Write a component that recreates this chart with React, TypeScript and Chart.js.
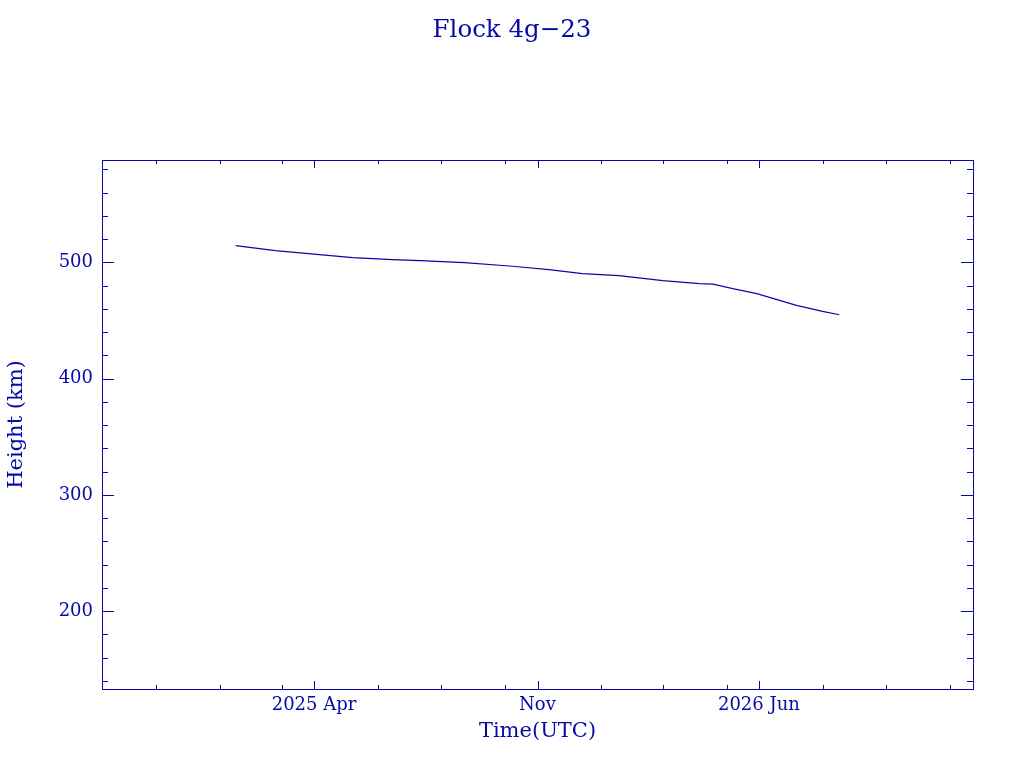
import { useEffect, useRef } from 'react'
import { Chart, registerables } from 'chart.js'

Chart.register(...registerables)

const BLUE = '#0808A8'
const FONT = 'DejaVu Serif'

// orbit height samples
const dates = [
  '2025-01-16', '2025-02-23', '2025-05-08', '2025-06-15', '2025-07-12',
  '2025-08-23', '2025-10-08', '2025-11-12', '2025-12-14', '2026-01-18',
  '2026-03-01', '2026-04-05', '2026-04-18', '2026-05-07', '2026-05-30',
  '2026-07-07', '2026-08-01', '2026-08-17',
]
const heights = [
  514.4, 510.1, 504.1, 502.3, 501.5,
  499.7, 496.6, 493.7, 490.3, 488.5,
  484.2, 481.6, 481.3, 477.3, 473.0,
  462.9, 457.8, 454.9,
]

// axis ranges
const xRange = ['2024-09-10', '2026-12-23']
const yRange = [133, 588]

// tick marks
const xMajorDates = ['2025-04-01', '2025-11-01', '2026-06-01']
const xMajorLabels = ['2025 Apr', 'Nov', '2026 Jun']
const xMinorDates = [
  '2024-11-01', '2025-01-01', '2025-03-01', '2025-06-01', '2025-08-01', '2025-10-01',
  '2026-01-01', '2026-03-01', '2026-05-01', '2026-08-01', '2026-10-01', '2026-12-01',
]
const yMajor = [200, 300, 400, 500]
const yMinor = [140, 160, 180, 220, 240, 260, 280, 320, 340, 360, 380, 420, 440, 460, 480, 520, 540, 560, 580]

const ms = (d: string) => Date.parse(d)
const xMajor = xMajorDates.map(ms)
const xMinor = xMinorDates.map(ms)

// IDL style: tick marks pointing into the plot, on all four sides
const inwardTicks = {
  id: 'inwardTicks',
  afterDraw(chart: any) {
    const { ctx, chartArea: a, scales } = chart
    ctx.save()
    ctx.strokeStyle = BLUE
    ctx.lineWidth = 1
    ctx.beginPath()
    const xs = [...xMajor.map(v => [v, 8]), ...xMinor.map(v => [v, 4])]
    xs.forEach(([v, len]) => {
      const px = Math.round(scales.x.getPixelForValue(v)) + 0.5
      ctx.moveTo(px, a.bottom)
      ctx.lineTo(px, a.bottom - len)
      ctx.moveTo(px, a.top)
      ctx.lineTo(px, a.top + len)
    })
    const ys = [...yMajor.map(v => [v, 12]), ...yMinor.map(v => [v, 6])]
    ys.forEach(([v, len]) => {
      const py = Math.round(scales.y.getPixelForValue(v)) + 0.5
      ctx.moveTo(a.left, py)
      ctx.lineTo(a.left + len, py)
      ctx.moveTo(a.right, py)
      ctx.lineTo(a.right - len, py)
    })
    ctx.stroke()
    ctx.restore()
  },
}

export default function App() {
  const canvasRef = useRef<HTMLCanvasElement>(null)

  useEffect(() => {
    if (!canvasRef.current) return
    const chart = new Chart(canvasRef.current, {
      type: 'line',
      data: {
        datasets: [{
          data: dates.map((d, i) => ({ x: ms(d), y: heights[i] })),
          borderColor: BLUE,
          borderWidth: 1.2,
          pointRadius: 0,
          tension: 0,
        }],
      },
      options: {
        animation: false,
        responsive: false,
        devicePixelRatio: 1,
        layout: { padding: 0 },
        plugins: {
          legend: { display: false },
          tooltip: { enabled: false },
          title: {
            display: true,
            text: 'Flock 4g\u221223',
            color: BLUE,
            font: { family: FONT, size: 24.5, weight: 'normal', lineHeight: '28px' },
            padding: { top: 17, bottom: 0 },
          },
        },
        scales: {
          x: {
            type: 'linear',
            position: 'bottom',
            min: ms(xRange[0]),
            max: ms(xRange[1]),
            afterFit: (s: any) => { s.height = 79 },
            afterBuildTicks: (s: any) => { s.ticks = xMajor.map(v => ({ value: v })) },
            grid: { display: false, drawTicks: false },
            border: { display: true, color: BLUE, width: 1 },
            ticks: {
              autoSkip: false,
              maxRotation: 0,
              padding: 6,
              color: BLUE,
              font: { family: FONT, size: 18 },
              callback: (v: any) => xMajorLabels[xMajor.indexOf(Number(v))] ?? '',
            },
            title: {
              display: true,
              text: 'Time(UTC)',
              color: BLUE,
              font: { family: FONT, size: 21 },
              padding: { top: 0, bottom: 24 },
            },
          },
          x2: {
            type: 'linear',
            position: 'top',
            min: ms(xRange[0]),
            max: ms(xRange[1]),
            afterFit: (s: any) => { s.height = 115 },
            grid: { display: false, drawTicks: false },
            border: { display: true, color: BLUE, width: 1 },
            ticks: { display: false },
          },
          y: {
            type: 'linear',
            position: 'left',
            min: yRange[0],
            max: yRange[1],
            afterFit: (s: any) => { s.width = 102 },
            afterBuildTicks: (s: any) => { s.ticks = yMajor.map(v => ({ value: v })) },
            grid: { display: false, drawTicks: false },
            border: { display: true, color: BLUE, width: 1 },
            ticks: {
              padding: 9,
              color: BLUE,
              font: { family: FONT, size: 18 },
            },
            title: {
              display: true,
              text: 'Height (km)',
              color: BLUE,
              font: { family: FONT, size: 21 },
              padding: { top: 4, bottom: 0 },
            },
          },
          y2: {
            type: 'linear',
            position: 'right',
            min: yRange[0],
            max: yRange[1],
            afterFit: (s: any) => { s.width = 51 },
            grid: { display: false, drawTicks: false },
            border: { display: true, color: BLUE, width: 1 },
            ticks: { display: false },
          },
        },
      },
      plugins: [inwardTicks],
    })
    return () => chart.destroy()
  }, [])

  return (
    <div style={{ position: 'absolute', left: 0, top: 0, width: 1024, height: 768, background: '#fff' }}>
      <canvas ref={canvasRef} width={1024} height={768} style={{ display: 'block' }} />
    </div>
  )
}
